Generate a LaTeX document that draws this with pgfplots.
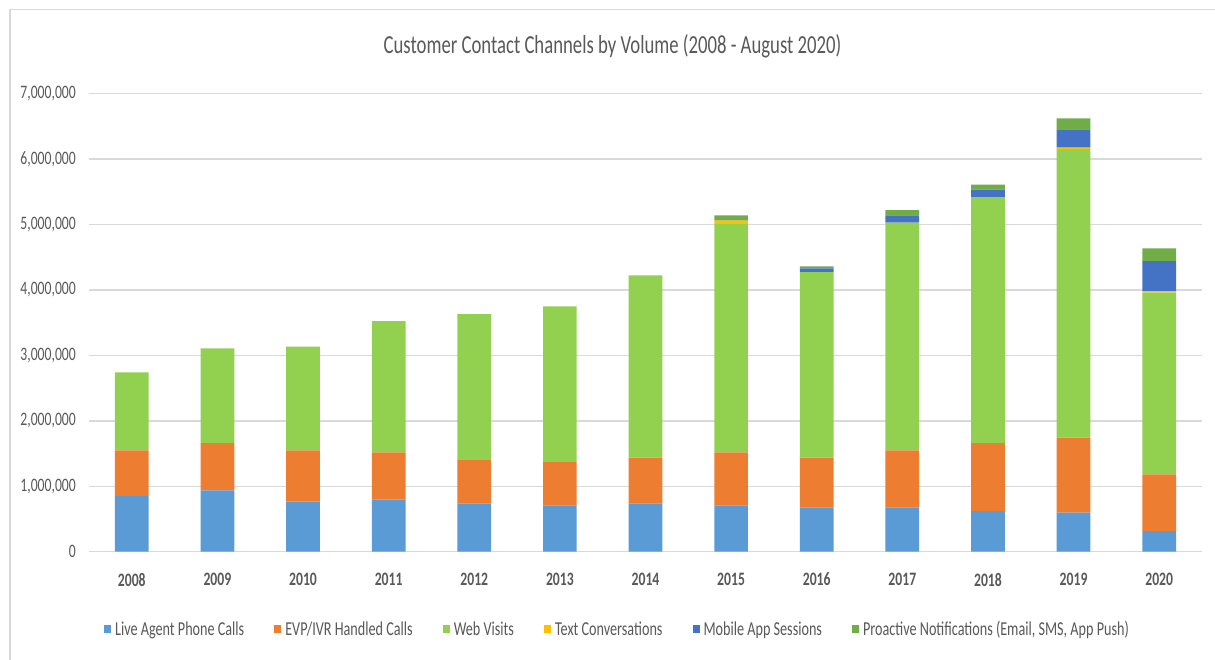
\documentclass[border=0pt]{standalone}
\usepackage{fontspec}
\setmainfont{Carlito}[FakeStretch=0.72]
\usepackage{pgfplots}
\usepackage{pgfplotstable}
\pgfplotsset{compat=1.18}

\definecolor{txtgray}{HTML}{595959}
\definecolor{gridgray}{HTML}{D9D9D9}
\definecolor{cLive}{HTML}{5B9BD5}
\definecolor{cEvp}{HTML}{ED7D31}
\definecolor{cWeb}{HTML}{92D050}
\definecolor{cText}{HTML}{FFC000}
\definecolor{cMobile}{HTML}{4472C4}
\definecolor{cProactive}{HTML}{70AD47}

% contact volumes per year (index 0 = 2008)
\pgfplotstableread{
idx live   evp     web     text  mobile pro
0   851000 698000  1192000 0     0      0
1   937000 724000  1446000 0     0      0
2   764000 785000  1584000 0     0      0
3   795000 723000  2007000 0     0      0
4   739000 672000  2221000 0     0      0
5   708000 673000  2368000 0     0      0
6   739000 698000  2786000 0     0      0
7   708000 810000  3490000 51000 0      81000
8   678000 759000  2837000 0     56000  31000
9   678000 871000  3479000 0     112000 82000
10  622000 1039000 3759000 0     113000 76000
11  596000 1146000 4412000 21000 279000 169000
12  316000 866000  2776000 21000 463000 194000
}\contacts

\begin{document}
\begin{tikzpicture}[x=1pt,y=1pt]
\useasboundingbox (0,0) rectangle (1215,-660);
\fill[white] (0,0) rectangle (1215,-660);
% chart frame
\draw[gridgray,line width=1.5pt] (10,-662) -- (10,-9.5) -- (1217,-9.5);
% title
\node[text=txtgray,font=\fontsize{26}{30}\selectfont] at (612.5,-46) {Customer Contact Channels by Volume (2008 - August 2020)};
\begin{axis}[
  at={(89pt,-551.7pt)}, anchor=south west,
  scale only axis, width=1113pt, height=458pt,
  ybar stacked, bar width=33.7pt,
  xmin=-0.5, xmax=12.5, ymin=0, ymax=7000000,
  enlargelimits=false,
  xtick={0,...,12},
  xticklabels={2008,2009,2010,2011,2012,2013,2014,2015,2016,2017,2018,2019,2020},
  ytick={0,1000000,...,7000000},
  scaled y ticks=false,
  yticklabel={\pgfmathprintnumber[fixed,1000 sep={,},assume math mode=true]{\tick}},
  /pgf/number format/assume math mode=true,
  axis line style={draw=none},
  major tick length=0pt,
  ymajorgrids, grid style={gridgray,line width=1.5pt},
  tick label style={text=txtgray,font=\fontsize{19}{22}\selectfont},
  yticklabel style={anchor=east,inner sep=0pt,xshift=-13pt},
  xticklabel style={anchor=north,inner sep=0pt,yshift=-21pt,font=\fontsize{19}{22}\selectfont\bfseries},
  legend columns=6,
  legend style={draw=none,fill=none,inner sep=0pt,
    at={(527.5pt,-77.3pt)},anchor=center,
    nodes={inner sep=0pt,text=txtgray,font=\fontsize{19.7}{22}\selectfont},
    /tikz/every odd column/.append style={column sep=4pt},
    /tikz/every even column/.append style={column sep=30pt}},
  legend image code/.code={\fill[#1] (0pt,-4pt) rectangle (7pt,4pt);},
]
\addplot[fill=cLive,draw=none] table[x=idx,y=live] {\contacts};
\addplot[fill=cEvp,draw=none] table[x=idx,y=evp] {\contacts};
\addplot[fill=cWeb,draw=none] table[x=idx,y=web] {\contacts};
\addplot[fill=cText,draw=none] table[x=idx,y=text] {\contacts};
\addplot[fill=cMobile,draw=none] table[x=idx,y=mobile] {\contacts};
\addplot[fill=cProactive,draw=none] table[x=idx,y=pro] {\contacts};
\legend{Live Agent Phone Calls,EVP/IVR Handled Calls,Web Visits,Text Conversations,Mobile App Sessions,{Proactive Notifications (Email, SMS, App Push)}}
\end{axis}
\end{tikzpicture}
\end{document}
